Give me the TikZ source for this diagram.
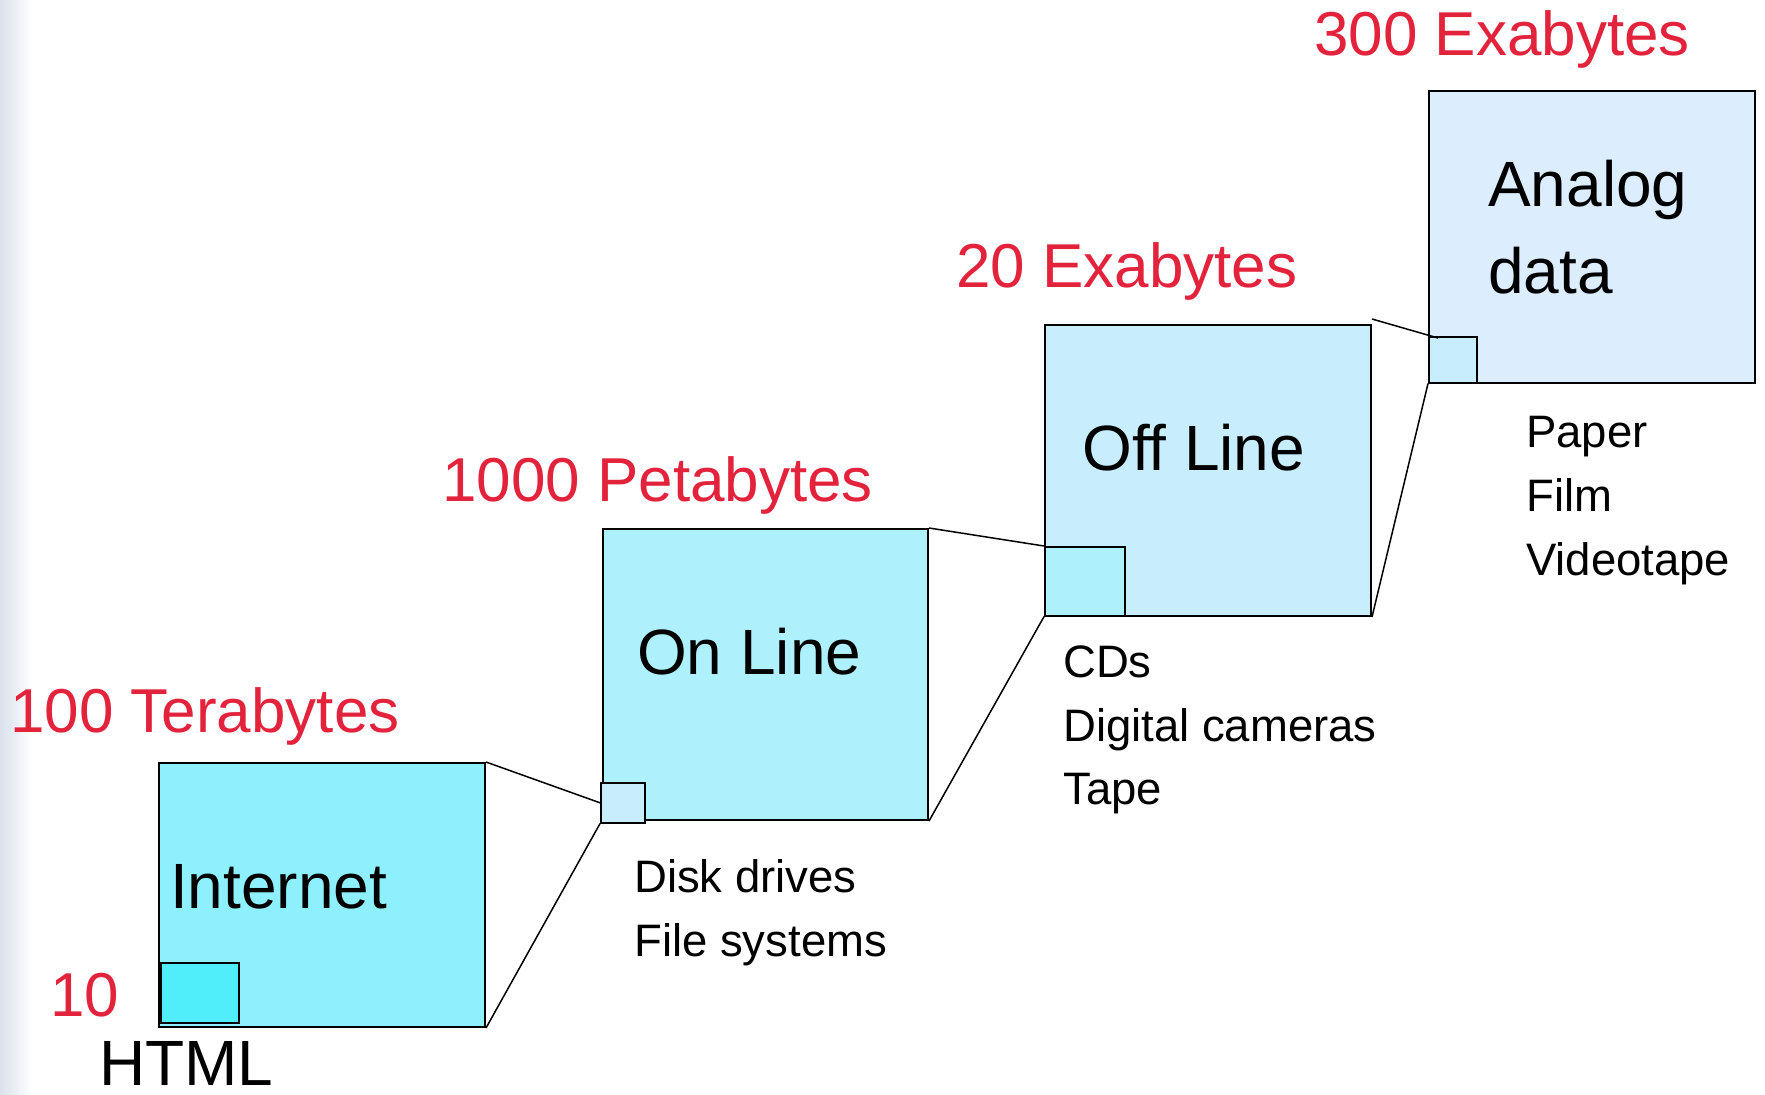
\documentclass[tikz,border=0pt]{standalone}
\usepackage{fontspec}
\setmainfont{Liberation Sans}
\begin{document}
\begin{tikzpicture}[x=1pt,y=-1pt,
  bigbox/.style={draw=black,line width=2pt,rectangle,inner sep=0pt,anchor=north west},
  smallbox/.style={draw=black,line width=1.6pt,rectangle,inner sep=0pt,anchor=north west},
  conn/.style={draw=black,line width=1.5pt},
  redlbl/.style={text=labred,anchor=base west,inner sep=0pt,font=\fontsize{62}{70}\selectfont},
  biglbl/.style={text=black,anchor=base west,inner sep=0pt,font=\fontsize{64}{72}\selectfont},
  smalllbl/.style={text=black,anchor=base west,inner sep=0pt,font=\fontsize{45.5}{54}\selectfont}]
\definecolor{labred}{RGB}{227,35,60}
\definecolor{fillA}{RGB}{142,240,252}
\definecolor{fillAs}{RGB}{80,238,251}
\definecolor{fillB}{RGB}{174,240,252}
\definecolor{fillBs}{RGB}{200,238,253}
\definecolor{fillC}{RGB}{200,238,253}
\definecolor{fillCs}{RGB}{174,240,252}
\definecolor{fillD}{RGB}{220,238,253}
\definecolor{fillDs}{RGB}{200,238,253}
\definecolor{edgeblue}{RGB}{200,212,228}
\useasboundingbox (0,0) rectangle (1765,1095);
\fill[white] (0,0) rectangle (1765,1095);
\shade[left color=edgeblue!70, right color=white] (0,0) rectangle (32,1095);
% big boxes
\node[bigbox,fill=fillA,minimum width=326pt,minimum height=264pt] (inet) at (158,762) {};
\node[bigbox,fill=fillB,minimum width=325pt,minimum height=291pt] (online) at (602,528) {};
\node[bigbox,fill=fillC,minimum width=326pt,minimum height=291pt] (offline) at (1044,324) {};
\node[bigbox,fill=fillD,minimum width=326pt,minimum height=292pt] (analog) at (1428,90) {};
% small boxes
\node[smallbox,fill=fillAs,minimum width=78pt,minimum height=60pt] (inetsm) at (160,962) {};
\node[smallbox,fill=fillBs,minimum width=44pt,minimum height=40pt] (onsm) at (600,782) {};
\node[smallbox,fill=fillCs,minimum width=80pt,minimum height=69pt] (offsm) at (1044,546) {};
\node[smallbox,fill=fillDs,minimum width=48pt,minimum height=46pt] (anasm) at (1428,336) {};
% connectors
\draw[conn] (inet.north east) -- (onsm.west);
\draw[conn] (inet.south east) -- (onsm.south west);
\draw[conn] (online.north east) -- (offsm.north west);
\draw[conn] (online.south east) -- (offsm.south west);
\draw[conn] ([yshift=5pt]offline.north east) -- ([xshift=10pt,yshift=-2pt]anasm.north west);
\draw[conn] (offline.south east) -- (anasm.south west);
% red labels
\node[redlbl] (l300) at (1314,55) {300 Exabytes};
\node[redlbl] (l20) at (956,287) {20 Exabytes};
\node[redlbl] (l1000) at (442,501) {1000 Petabytes};
\node[redlbl] (l100) at (10,732) {100 Terabytes};
\node[redlbl] (l10) at (50,1016) {10};
% big labels
\node[biglbl] (tinet) at (170,908) {Internet};
\node[biglbl] (tonline) at (637,674) {On Line};
\node[biglbl] (toffline) at (1082,470) {Off Line};
\node[biglbl] (tana1) at (1488,206) {Analog};
\node[biglbl] (tana2) at (1488,293) {data};
\node[biglbl,text depth=0pt] (thtml) at (99,1085) {HTML};
% small labels
\node[smalllbl] (disk) at (634,892) {Disk drives};
\node[smalllbl] (files) at (634,956) {File systems};
\node[smalllbl] (cds) at (1063,677) {CDs};
\node[smalllbl] (cams) at (1063,741) {Digital cameras};
\node[smalllbl] (tape) at (1063,804) {Tape};
\node[smalllbl] (paper) at (1526,447) {Paper};
\node[smalllbl] (film) at (1526,511) {Film};
\node[smalllbl] (video) at (1526,575) {Videotape};
\end{tikzpicture}
\end{document}
